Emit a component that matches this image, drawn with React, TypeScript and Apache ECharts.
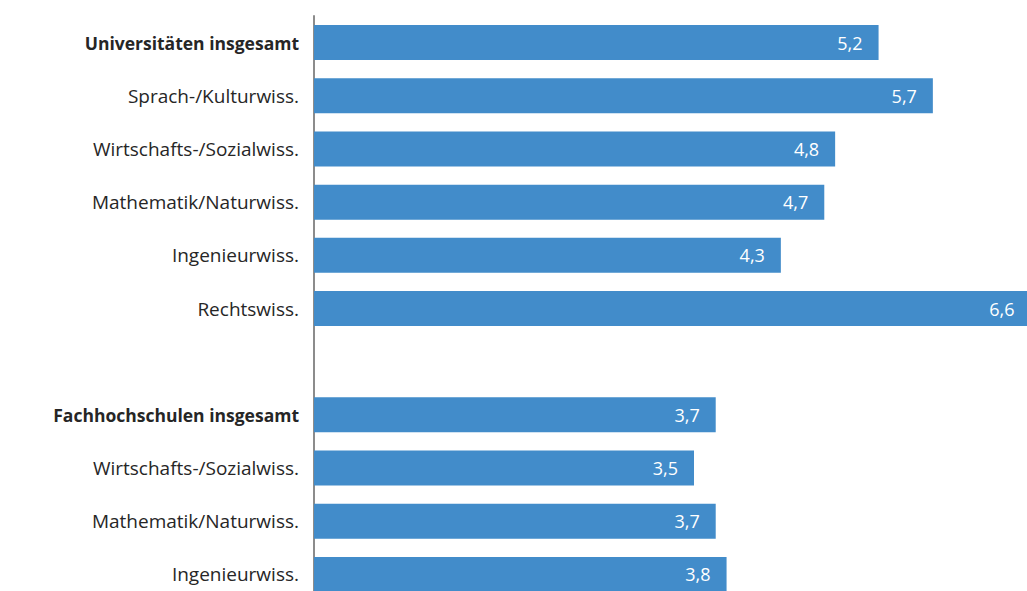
import React, { useEffect, useRef } from "react";
import * as echarts from "echarts";

const categories = [
  "Universitäten insgesamt",
  "Sprach-/Kulturwiss.",
  "Wirtschafts-/Sozialwiss.",
  "Mathematik/Naturwiss.",
  "Ingenieurwiss.",
  "Rechtswiss.",
  "",
  "Fachhochschulen insgesamt",
  "Wirtschafts-/Sozialwiss.",
  "Mathematik/Naturwiss.",
  "Ingenieurwiss.",
];
const values: (number | null)[] = [5.2, 5.7, 4.8, 4.7, 4.3, 6.6, null, 3.7, 3.5, 3.7, 3.8];
const boldRows = [0, 7];

const FONT = "'Open Sans', 'Noto Sans', sans-serif";

export default function App() {
  const ref = useRef<HTMLDivElement>(null);
  useEffect(() => {
    document.body.style.margin = "0";
    if (!ref.current) return;
    const chart = echarts.init(ref.current, null, { renderer: "svg" });
    chart.setOption({
      animation: false,
      grid: {
        left: 314,
        top: 16,
        width: 760,
        height: 585,
        containLabel: false,
        outerBoundsMode: "none",
      },
      xAxis: {
        type: "value",
        min: 0,
        max: 7,
        show: false,
      },
      yAxis: {
        type: "category",
        inverse: true,
        data: categories.map((c, i) => ({
          value: c,
          textStyle: boldRows.includes(i)
            ? { fontWeight: "bold", fontSize: 17.5 }
            : { fontWeight: "normal", fontSize: 19 },
        })),
        axisLine: { show: true, lineStyle: { color: "#8c8c8c", width: 2 } },
        axisTick: { show: false },
        axisLabel: {
          margin: 15,
          color: "#262626",
          fontFamily: FONT,
          fontSize: 19,
          interval: 0,
        },
      },
      series: [
        {
          type: "bar",
          data: values.map((v) => (v === null ? "-" : v)),
          barWidth: 35,
          itemStyle: { color: "#428cca" },
          label: {
            show: true,
            position: "insideRight",
            distance: 16,
            color: "#ffffff",
            fontFamily: FONT,
            fontSize: 18,
            formatter: (p: any) => String(p.value).replace(".", ","),
          },
        },
      ],
    });
    return () => chart.dispose();
  }, []);
  return <div ref={ref} style={{ width: 1027, height: 591 }} />;
}
